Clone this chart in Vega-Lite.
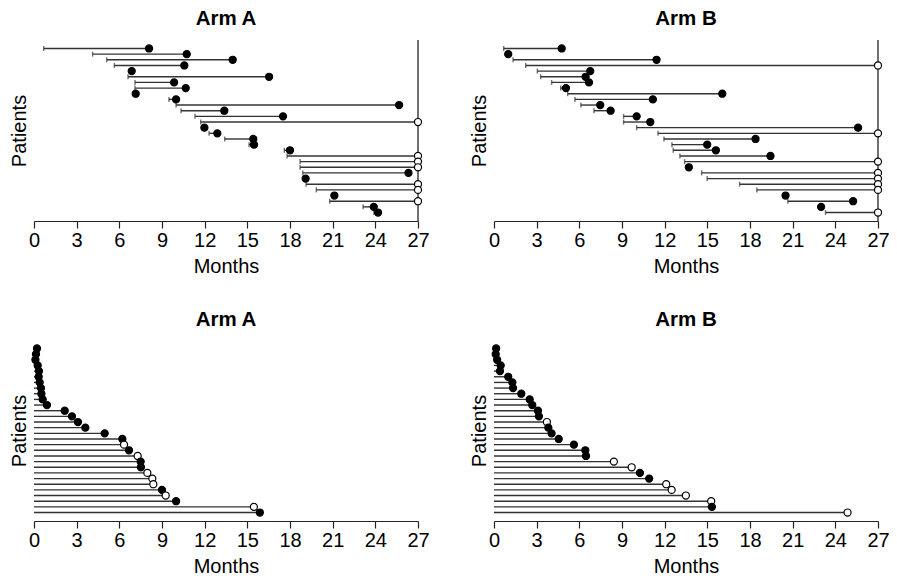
{
  "$schema": "https://vega.github.io/schema/vega-lite/v6.json",
  "padding": {"left": 9, "top": 8, "right": 5, "bottom": 5},
  "background": "white",
  "bounds": "flush",
  "columns": 2,
  "spacing": {"row": 119, "column": 76},
  "config": {
    "font": "Liberation Sans",
    "view": {"stroke": null},
    "title": {"fontSize": 20.5, "fontWeight": "bold", "color": "black", "offset": 10, "anchor": "middle"},
    "axisX": {
      "tickSize": 7, "tickColor": "#222", "domainColor": "#222", "tickWidth": 1.2, "domainWidth": 1.2,
      "labelFontSize": 20, "labelColor": "black", "labelPadding": 2, "labelFlush": false,
      "titleFontSize": 20, "titleFontWeight": "normal", "titleColor": "black", "titlePadding": 6,
      "grid": false
    },
    "axisY": {
      "labels": false, "ticks": false, "domain": false, "grid": false,
      "titleFontSize": 20, "titleFontWeight": "normal", "titleColor": "black", "titlePadding": 5
    }
  },
  "data": {"values": [
    {"panel": "topA", "r": 1, "start": 0.68, "end": 8.09, "status": "event"},
    {"panel": "topA", "r": 2, "start": 4.12, "end": 10.74, "status": "event"},
    {"panel": "topA", "r": 3, "start": 5.11, "end": 13.97, "status": "event"},
    {"panel": "topA", "r": 4, "start": 5.65, "end": 10.57, "status": "event"},
    {"panel": "topA", "r": 5, "start": 6.75, "end": 6.87, "status": "event"},
    {"panel": "topA", "r": 6, "start": 6.61, "end": 16.53, "status": "event"},
    {"panel": "topA", "r": 7, "start": 7.1, "end": 9.85, "status": "event"},
    {"panel": "topA", "r": 8, "start": 7.1, "end": 10.67, "status": "event"},
    {"panel": "topA", "r": 9, "start": 7.1, "end": 7.15, "status": "event"},
    {"panel": "topA", "r": 10, "start": 9.49, "end": 9.99, "status": "event"},
    {"panel": "topA", "r": 11, "start": 9.99, "end": 25.67, "status": "event"},
    {"panel": "topA", "r": 12, "start": 10.34, "end": 13.38, "status": "event"},
    {"panel": "topA", "r": 13, "start": 11.32, "end": 17.51, "status": "event"},
    {"panel": "topA", "r": 14, "start": 11.72, "end": 27, "status": "censored"},
    {"panel": "topA", "r": 15, "start": 11.8, "end": 11.98, "status": "event"},
    {"panel": "topA", "r": 16, "start": 12.31, "end": 12.89, "status": "event"},
    {"panel": "topA", "r": 17, "start": 13.41, "end": 15.42, "status": "event"},
    {"panel": "topA", "r": 18, "start": 15.12, "end": 15.47, "status": "event"},
    {"panel": "topA", "r": 19, "start": 17.6, "end": 18.0, "status": "event"},
    {"panel": "topA", "r": 20, "start": 17.79, "end": 27, "status": "censored"},
    {"panel": "topA", "r": 21, "start": 18.71, "end": 27, "status": "censored"},
    {"panel": "topA", "r": 22, "start": 18.71, "end": 27, "status": "censored"},
    {"panel": "topA", "r": 23, "start": 18.9, "end": 26.33, "status": "event"},
    {"panel": "topA", "r": 24, "start": 19.0, "end": 19.1, "status": "event"},
    {"panel": "topA", "r": 25, "start": 19.13, "end": 27, "status": "censored"},
    {"panel": "topA", "r": 26, "start": 19.85, "end": 27, "status": "censored"},
    {"panel": "topA", "r": 27, "start": 21.0, "end": 21.12, "status": "event"},
    {"panel": "topA", "r": 28, "start": 20.79, "end": 27, "status": "censored"},
    {"panel": "topA", "r": 29, "start": 23.14, "end": 23.89, "status": "event"},
    {"panel": "topA", "r": 30, "start": 23.9, "end": 24.19, "status": "event"},

    {"panel": "topB", "r": 1, "start": 0.68, "end": 4.76, "status": "event"},
    {"panel": "topB", "r": 2, "start": 0.9, "end": 1.0, "status": "event"},
    {"panel": "topB", "r": 3, "start": 1.34, "end": 11.43, "status": "event"},
    {"panel": "topB", "r": 4, "start": 2.23, "end": 27, "status": "censored"},
    {"panel": "topB", "r": 5, "start": 3.05, "end": 6.77, "status": "event"},
    {"panel": "topB", "r": 6, "start": 3.28, "end": 6.44, "status": "event"},
    {"panel": "topB", "r": 7, "start": 4.05, "end": 6.68, "status": "event"},
    {"panel": "topB", "r": 8, "start": 4.69, "end": 5.06, "status": "event"},
    {"panel": "topB", "r": 9, "start": 5.18, "end": 16.05, "status": "event"},
    {"panel": "topB", "r": 10, "start": 5.69, "end": 11.17, "status": "event"},
    {"panel": "topB", "r": 11, "start": 6.11, "end": 7.47, "status": "event"},
    {"panel": "topB", "r": 12, "start": 7.03, "end": 8.2, "status": "event"},
    {"panel": "topB", "r": 13, "start": 9.11, "end": 10.03, "status": "event"},
    {"panel": "topB", "r": 14, "start": 9.11, "end": 10.99, "status": "event"},
    {"panel": "topB", "r": 15, "start": 10.03, "end": 25.6, "status": "event"},
    {"panel": "topB", "r": 16, "start": 11.53, "end": 27, "status": "censored"},
    {"panel": "topB", "r": 17, "start": 11.95, "end": 18.39, "status": "event"},
    {"panel": "topB", "r": 18, "start": 12.51, "end": 14.99, "status": "event"},
    {"panel": "topB", "r": 19, "start": 12.6, "end": 15.6, "status": "event"},
    {"panel": "topB", "r": 20, "start": 13.07, "end": 19.44, "status": "event"},
    {"panel": "topB", "r": 21, "start": 13.4, "end": 27, "status": "censored"},
    {"panel": "topB", "r": 22, "start": 13.55, "end": 13.7, "status": "event"},
    {"panel": "topB", "r": 23, "start": 14.6, "end": 27, "status": "censored"},
    {"panel": "topB", "r": 24, "start": 14.99, "end": 27, "status": "censored"},
    {"panel": "topB", "r": 25, "start": 17.27, "end": 27, "status": "censored"},
    {"panel": "topB", "r": 26, "start": 18.48, "end": 27, "status": "censored"},
    {"panel": "topB", "r": 27, "start": 20.4, "end": 20.5, "status": "event"},
    {"panel": "topB", "r": 28, "start": 20.66, "end": 25.25, "status": "event"},
    {"panel": "topB", "r": 29, "start": 22.9, "end": 23.0, "status": "event"},
    {"panel": "topB", "r": 30, "start": 23.31, "end": 27, "status": "censored"},

    {"panel": "botA", "r": 1, "start": 0, "end": 0.21, "status": "event"},
    {"panel": "botA", "r": 2, "start": 0, "end": 0.14, "status": "event"},
    {"panel": "botA", "r": 3, "start": 0, "end": 0.1, "status": "event"},
    {"panel": "botA", "r": 4, "start": 0, "end": 0.26, "status": "event"},
    {"panel": "botA", "r": 5, "start": 0, "end": 0.35, "status": "event"},
    {"panel": "botA", "r": 6, "start": 0, "end": 0.33, "status": "event"},
    {"panel": "botA", "r": 7, "start": 0, "end": 0.4, "status": "event"},
    {"panel": "botA", "r": 8, "start": 0, "end": 0.49, "status": "event"},
    {"panel": "botA", "r": 9, "start": 0, "end": 0.52, "status": "event"},
    {"panel": "botA", "r": 10, "start": 0, "end": 0.61, "status": "event"},
    {"panel": "botA", "r": 11, "start": 0, "end": 0.91, "status": "event"},
    {"panel": "botA", "r": 12, "start": 0, "end": 2.16, "status": "event"},
    {"panel": "botA", "r": 13, "start": 0, "end": 2.67, "status": "event"},
    {"panel": "botA", "r": 14, "start": 0, "end": 3.09, "status": "event"},
    {"panel": "botA", "r": 15, "start": 0, "end": 3.61, "status": "event"},
    {"panel": "botA", "r": 16, "start": 0, "end": 4.97, "status": "event"},
    {"panel": "botA", "r": 17, "start": 0, "end": 6.21, "status": "event"},
    {"panel": "botA", "r": 18, "start": 0, "end": 6.33, "status": "censored"},
    {"panel": "botA", "r": 19, "start": 0, "end": 6.68, "status": "event"},
    {"panel": "botA", "r": 20, "start": 0, "end": 7.29, "status": "censored"},
    {"panel": "botA", "r": 21, "start": 0, "end": 7.5, "status": "event"},
    {"panel": "botA", "r": 22, "start": 0, "end": 7.52, "status": "event"},
    {"panel": "botA", "r": 23, "start": 0, "end": 7.97, "status": "censored"},
    {"panel": "botA", "r": 24, "start": 0, "end": 8.32, "status": "censored"},
    {"panel": "botA", "r": 25, "start": 0, "end": 8.39, "status": "censored"},
    {"panel": "botA", "r": 26, "start": 0, "end": 9.0, "status": "event"},
    {"panel": "botA", "r": 27, "start": 0, "end": 9.26, "status": "censored"},
    {"panel": "botA", "r": 28, "start": 0, "end": 9.99, "status": "event"},
    {"panel": "botA", "r": 29, "start": 0, "end": 15.46, "status": "censored"},
    {"panel": "botA", "r": 30, "start": 0, "end": 15.88, "status": "event"},

    {"panel": "botB", "r": 1, "start": 0, "end": 0.15, "status": "event"},
    {"panel": "botB", "r": 2, "start": 0, "end": 0.12, "status": "event"},
    {"panel": "botB", "r": 3, "start": 0, "end": 0.22, "status": "event"},
    {"panel": "botB", "r": 4, "start": 0, "end": 0.47, "status": "event"},
    {"panel": "botB", "r": 5, "start": 0, "end": 0.42, "status": "event"},
    {"panel": "botB", "r": 6, "start": 0, "end": 1.0, "status": "event"},
    {"panel": "botB", "r": 7, "start": 0, "end": 1.29, "status": "event"},
    {"panel": "botB", "r": 8, "start": 0, "end": 1.34, "status": "event"},
    {"panel": "botB", "r": 9, "start": 0, "end": 1.92, "status": "event"},
    {"panel": "botB", "r": 10, "start": 0, "end": 2.51, "status": "event"},
    {"panel": "botB", "r": 11, "start": 0, "end": 2.69, "status": "event"},
    {"panel": "botB", "r": 12, "start": 0, "end": 3.09, "status": "event"},
    {"panel": "botB", "r": 13, "start": 0, "end": 3.16, "status": "event"},
    {"panel": "botB", "r": 14, "start": 0, "end": 3.72, "status": "censored"},
    {"panel": "botB", "r": 15, "start": 0, "end": 3.82, "status": "event"},
    {"panel": "botB", "r": 16, "start": 0, "end": 4.05, "status": "event"},
    {"panel": "botB", "r": 17, "start": 0, "end": 4.55, "status": "event"},
    {"panel": "botB", "r": 18, "start": 0, "end": 5.62, "status": "event"},
    {"panel": "botB", "r": 19, "start": 0, "end": 6.42, "status": "event"},
    {"panel": "botB", "r": 20, "start": 0, "end": 6.47, "status": "event"},
    {"panel": "botB", "r": 21, "start": 0, "end": 8.43, "status": "censored"},
    {"panel": "botB", "r": 22, "start": 0, "end": 9.68, "status": "censored"},
    {"panel": "botB", "r": 23, "start": 0, "end": 10.26, "status": "event"},
    {"panel": "botB", "r": 24, "start": 0, "end": 10.91, "status": "event"},
    {"panel": "botB", "r": 25, "start": 0, "end": 12.11, "status": "censored"},
    {"panel": "botB", "r": 26, "start": 0, "end": 12.49, "status": "censored"},
    {"panel": "botB", "r": 27, "start": 0, "end": 13.49, "status": "censored"},
    {"panel": "botB", "r": 28, "start": 0, "end": 15.27, "status": "censored"},
    {"panel": "botB", "r": 29, "start": 0, "end": 15.32, "status": "event"},
    {"panel": "botB", "r": 30, "start": 0, "end": 24.86, "status": "censored"}
  ]},
  "concat": [
    {
      "width": 384, "height": 181, "title": "Arm A",
      "transform": [{"filter": "datum.panel === 'topA'"}],
      "encoding": {"y": {"field": "r", "type": "quantitative", "title": "Patients", "scale": {"domain": [-0.5, 31.5], "reverse": true, "nice": false, "zero": false}}},
      "layer": [
        {"mark": {"type": "rule", "color": "#333", "strokeWidth": 1.4},
         "encoding": {"x": {"field": "start", "type": "quantitative", "title": "Months", "scale": {"domain": [0, 27], "nice": false, "zero": false}, "axis": {"values": [0, 3, 6, 9, 12, 15, 18, 21, 24, 27]}}, "x2": {"field": "end"}}},
        {"mark": {"type": "tick", "orient": "vertical", "size": 5, "thickness": 1.4, "color": "#333"},
         "encoding": {"x": {"field": "start", "type": "quantitative"}}},
        {"transform": [{"filter": "datum.r === 1"}],
         "mark": {"type": "rule", "color": "#222", "strokeWidth": 1.3},
         "encoding": {"x": {"datum": 27, "type": "quantitative"}, "y": {"value": 0}, "y2": {"value": 181}}},
        {"mark": {"type": "point", "shape": "circle", "filled": true, "size": 50, "stroke": "black", "strokeWidth": 1.2, "opacity": 1},
         "encoding": {"x": {"field": "end", "type": "quantitative"}, "fill": {"field": "status", "type": "nominal", "scale": {"domain": ["event", "censored"], "range": ["black", "white"]}, "legend": null}}}
      ]
    },
    {
      "width": 384, "height": 181, "title": "Arm B",
      "transform": [{"filter": "datum.panel === 'topB'"}],
      "encoding": {"y": {"field": "r", "type": "quantitative", "title": "Patients", "scale": {"domain": [-0.5, 31.5], "reverse": true, "nice": false, "zero": false}}},
      "layer": [
        {"mark": {"type": "rule", "color": "#333", "strokeWidth": 1.4},
         "encoding": {"x": {"field": "start", "type": "quantitative", "title": "Months", "scale": {"domain": [0, 27], "nice": false, "zero": false}, "axis": {"values": [0, 3, 6, 9, 12, 15, 18, 21, 24, 27]}}, "x2": {"field": "end"}}},
        {"mark": {"type": "tick", "orient": "vertical", "size": 5, "thickness": 1.4, "color": "#333"},
         "encoding": {"x": {"field": "start", "type": "quantitative"}}},
        {"transform": [{"filter": "datum.r === 1"}],
         "mark": {"type": "rule", "color": "#222", "strokeWidth": 1.3},
         "encoding": {"x": {"datum": 27, "type": "quantitative"}, "y": {"value": 0}, "y2": {"value": 181}}},
        {"mark": {"type": "point", "shape": "circle", "filled": true, "size": 50, "stroke": "black", "strokeWidth": 1.2, "opacity": 1},
         "encoding": {"x": {"field": "end", "type": "quantitative"}, "fill": {"field": "status", "type": "nominal", "scale": {"domain": ["event", "censored"], "range": ["black", "white"]}, "legend": null}}}
      ]
    },
    {
      "width": 384, "height": 181, "title": "Arm A",
      "transform": [{"filter": "datum.panel === 'botA'"}],
      "encoding": {"y": {"field": "r", "type": "quantitative", "title": "Patients", "scale": {"domain": [-0.5, 31.5], "reverse": true, "nice": false, "zero": false}}},
      "layer": [
        {"mark": {"type": "rule", "color": "#333", "strokeWidth": 1.4},
         "encoding": {"x": {"field": "start", "type": "quantitative", "title": "Months", "scale": {"domain": [0, 27], "nice": false, "zero": false}, "axis": {"values": [0, 3, 6, 9, 12, 15, 18, 21, 24, 27]}}, "x2": {"field": "end"}}},
        {"mark": {"type": "point", "shape": "circle", "filled": true, "size": 50, "stroke": "black", "strokeWidth": 1.2, "opacity": 1},
         "encoding": {"x": {"field": "end", "type": "quantitative"}, "fill": {"field": "status", "type": "nominal", "scale": {"domain": ["event", "censored"], "range": ["black", "white"]}, "legend": null}}}
      ]
    },
    {
      "width": 384, "height": 181, "title": "Arm B",
      "transform": [{"filter": "datum.panel === 'botB'"}],
      "encoding": {"y": {"field": "r", "type": "quantitative", "title": "Patients", "scale": {"domain": [-0.5, 31.5], "reverse": true, "nice": false, "zero": false}}},
      "layer": [
        {"mark": {"type": "rule", "color": "#333", "strokeWidth": 1.4},
         "encoding": {"x": {"field": "start", "type": "quantitative", "title": "Months", "scale": {"domain": [0, 27], "nice": false, "zero": false}, "axis": {"values": [0, 3, 6, 9, 12, 15, 18, 21, 24, 27]}}, "x2": {"field": "end"}}},
        {"mark": {"type": "point", "shape": "circle", "filled": true, "size": 50, "stroke": "black", "strokeWidth": 1.2, "opacity": 1},
         "encoding": {"x": {"field": "end", "type": "quantitative"}, "fill": {"field": "status", "type": "nominal", "scale": {"domain": ["event", "censored"], "range": ["black", "white"]}, "legend": null}}}
      ]
    }
  ]
}
